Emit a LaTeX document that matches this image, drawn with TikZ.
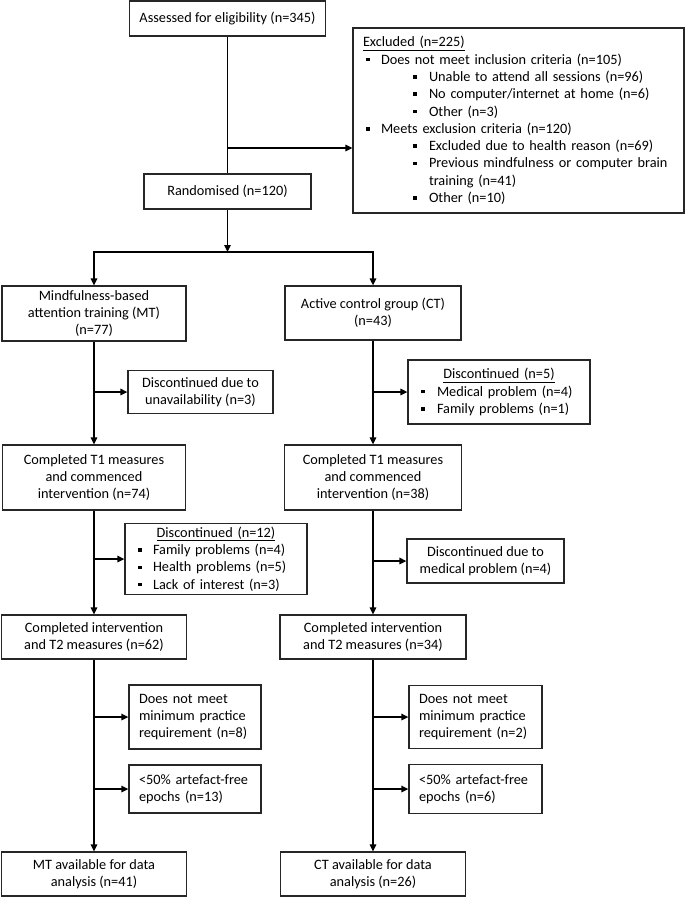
\documentclass[tikz,border=0pt]{standalone}
\usepackage{fontspec}
\setmainfont{Carlito}
\usetikzlibrary{arrows.meta}
\newcommand\bul{\rule[2.7pt]{3.6pt}{3.6pt}}
\begin{document}
\begin{tikzpicture}[x=1pt,y=-1pt,
  font=\fontsize{14.3}{17.3}\selectfont,
  box/.style={draw=black!85, line width=1.3pt, inner sep=0pt, align=center},
  lbox/.style={draw=black!85, line width=1.3pt, inner ysep=0pt, align=left},
  arr/.style={line width=1.4pt, -{Triangle[length=7pt,width=6.5pt]}},
  ln/.style={line width=1.4pt}]
\useasboundingbox (0,0) rectangle (685,897);

\node[box, minimum width=196pt, minimum height=35pt] (assess) at (227.5,18.5) {Assessed for eligibility (n=345)};
\node[lbox, text width=311pt, inner xsep=10pt, minimum height=185pt] (excl) at (518.5,120.5) {%
\underline{Excluded (n=225)}\\
\hspace*{3pt}\bul\hspace{11.4pt}Does not meet inclusion criteria (n=105)\\
\hspace*{50pt}\bul\hspace{12.4pt}Unable to attend all sessions (n=96)\\
\hspace*{50pt}\bul\hspace{12.4pt}No computer/internet at home (n=6)\\
\hspace*{50pt}\bul\hspace{12.4pt}Other (n=3)\\
\hspace*{3pt}\bul\hspace{11.4pt}Meets exclusion criteria (n=120)\\
\hspace*{50pt}\bul\hspace{12.4pt}Excluded due to health reason (n=69)\\
\hspace*{50pt}\bul\hspace{12.4pt}Previous mindfulness or computer brain\\
\hspace*{66pt}training (n=41)\\
\hspace*{50pt}\bul\hspace{12.4pt}Other (n=10)};
\node[box, minimum width=167pt, minimum height=35pt] (rand) at (227.5,191.5) {Randomised (n=120)};

\node[box, minimum width=184pt, minimum height=55pt] (mt) at (94,313.5) {Mindfulness-based\\attention training (MT)\\(n=77)};
\node[box, minimum width=176pt, minimum height=54pt] (ct) at (373,313) {Active control group (CT)\\(n=43)};

\node[box, minimum width=145pt, minimum height=43pt] (dmt1) at (200.5,392) {Discontinued due to\\unavailability (n=3)};
\node[lbox, text width=156pt, inner xsep=13pt, minimum height=64pt] (dct1) at (499,392) {%
\makebox[156pt][c]{\underline{Discontinued (n=5)}}\\
\bul\hspace{12.4pt}Medical problem (n=4)\\
\bul\hspace{12.4pt}Family problems (n=1)};

\node[box, minimum width=183pt, minimum height=65pt] (t1mt) at (94,477.5) {Completed T1 measures\\and commenced\\intervention (n=74)};
\node[box, minimum width=177pt, minimum height=65pt] (t1ct) at (373,477.5) {Completed T1 measures\\and commenced\\intervention (n=38)};

\node[lbox, text width=156pt, inner xsep=13pt, minimum height=71pt] (dmt2) at (216,559) {%
\makebox[156pt][c]{\underline{Discontinued (n=12)}}\\
\bul\hspace{11.4pt}Family problems (n=4)\\
\bul\hspace{11.4pt}Health problems (n=5)\\
\bul\hspace{11.4pt}Lack of interest (n=3)};
\node[box, minimum width=157pt, minimum height=44pt] (dct2) at (485.5,561) {Discontinued due to\\medical problem (n=4)};

\node[box, minimum width=185pt, minimum height=44pt] (t2mt) at (94,637) {Completed intervention\\and T2 measures (n=62)};
\node[box, minimum width=186pt, minimum height=44pt] (t2ct) at (373,637) {Completed intervention\\and T2 measures (n=34)};

\node[lbox, text width=112pt, inner xsep=10pt, minimum height=64pt] (nmmt) at (195,717) {Does not meet\\minimum practice\\requirement (n=8)};
\node[lbox, text width=113pt, inner xsep=10pt, minimum height=63pt] (nmct) at (475.5,717) {Does not meet\\minimum practice\\requirement (n=2)};
\node[lbox, text width=112pt, inner xsep=10pt, minimum height=48pt] (epmt) at (195,789) {<50\% artefact-free\\epochs (n=13)};
\node[lbox, text width=113pt, inner xsep=10pt, minimum height=49pt] (epct) at (475.5,789) {<50\% artefact-free\\epochs (n=6)};

\node[box, minimum width=185pt, minimum height=44pt] (fmt) at (94,874) {MT available for data\\analysis (n=41)};
\node[box, minimum width=185pt, minimum height=44pt] (fct) at (373,874) {CT available for data\\analysis (n=26)};

% connectors
\draw[ln] (assess.south) -- (rand.north);
\coordinate (b0) at (227.5,148);
\draw[arr] (b0) -- (b0 -| excl.west);
\coordinate (split) at (227.5,252);
\draw[arr] (rand.south) -- (split);
\draw[arr] (split) -| (mt.north);
\draw[arr] (split) -| (ct.north);

\draw[arr] (mt.south) -- (t1mt.north);
\draw[arr] (mt.south |- dmt1.west) -- (dmt1.west);
\draw[arr] (ct.south) -- (t1ct.north);
\draw[arr] (ct.south |- dct1.west) -- (dct1.west);

\draw[arr] (t1mt.south) -- (t2mt.north);
\draw[arr] (t1mt.south |- dmt2.west) -- (dmt2.west);
\draw[arr] (t1ct.south) -- (t2ct.north);
\draw[arr] (t1ct.south |- dct2.west) -- (dct2.west);

\draw[arr] (t2mt.south) -- (fmt.north);
\draw[arr] (t2mt.south |- nmmt.west) -- (nmmt.west);
\draw[arr] (t2mt.south |- epmt.west) -- (epmt.west);
\draw[arr] (t2ct.south) -- (fct.north);
\draw[arr] (t2ct.south |- nmct.west) -- (nmct.west);
\draw[arr] (t2ct.south |- epct.west) -- (epct.west);
\end{tikzpicture}
\end{document}
